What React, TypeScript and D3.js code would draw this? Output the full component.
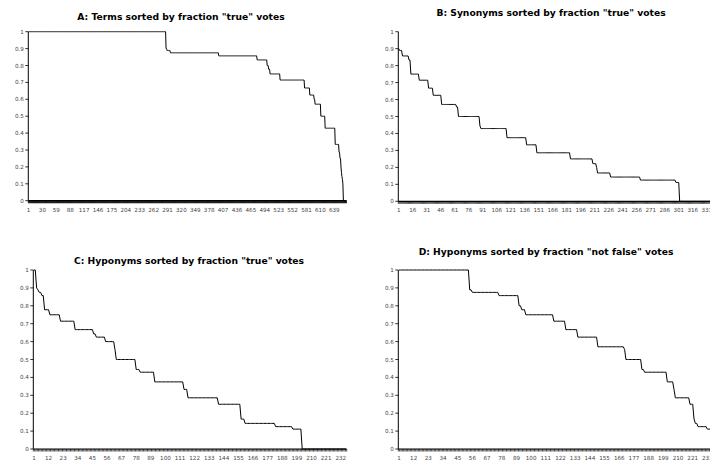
import React from "react";
import * as d3 from "d3";

// Run-length encoded step data: fraction level and number of items at that level
const aLevels = [1, 0.9, 0.889, 0.875, 0.857, 0.833, 0.8, 0.778, 0.75, 0.714, 0.667, 0.625, 0.6, 0.571, 0.5, 0.429, 0.333, 0.286, 0.25, 0.2, 0.167, 0.143, 0.125, 0.1, 0];
const aCounts = [287, 2, 7, 101, 80, 21, 3, 3, 21, 51, 11, 9, 2, 12, 9, 21, 8, 2, 2, 1, 1, 1, 1, 1, 7];

const bLevels = [0.9, 0.889, 0.857, 0.833, 0.75, 0.714, 0.667, 0.625, 0.571, 0.556, 0.5, 0.444, 0.429, 0.375, 0.333, 0.286, 0.25, 0.222, 0.2, 0.167, 0.143, 0.125, 0.111, 0];
const bCounts = [1, 3, 7, 2, 9, 10, 5, 9, 16, 2, 23, 1, 28, 21, 11, 36, 24, 4, 1, 14, 32, 38, 4, 39];

const cLevels = [1, 0.9, 0.889, 0.875, 0.857, 0.778, 0.75, 0.714, 0.667, 0.643, 0.625, 0.6, 0.556, 0.5, 0.444, 0.429, 0.375, 0.333, 0.286, 0.25, 0.167, 0.143, 0.125, 0.111, 0];
const cCounts = [2, 1, 1, 2, 2, 4, 8, 11, 14, 2, 7, 7, 1, 15, 3, 11, 22, 3, 23, 17, 3, 23, 13, 7, 34];

const dLevels = [1, 0.889, 0.875, 0.857, 0.8, 0.778, 0.75, 0.714, 0.667, 0.625, 0.571, 0.556, 0.5, 0.444, 0.429, 0.375, 0.333, 0.286, 0.25, 0.167, 0.143, 0.125, 0.111];
const dCounts = [53, 2, 20, 15, 2, 3, 21, 9, 9, 15, 20, 1, 12, 2, 17, 5, 1, 11, 3, 1, 2, 7, 5];

const titles = [
  'A: Terms sorted by fraction "true" votes',
  'B: Synonyms sorted by fraction "true" votes',
  'C: Hyponyms sorted by fraction "true" votes',
  'D: Hyponyms sorted by fraction "not false" votes',
];
const labelSteps = [29, 15, 11, 11];
const yTickValues = [0, 0.1, 0.2, 0.3, 0.4, 0.5, 0.6, 0.7, 0.8, 0.9, 1];
const yTickLabels = ["0", "0.1", "0.2", "0.3", "0.4", "0.5", "0.6", "0.7", "0.8", "0.9", "1"];

const layouts = [
  { x0: 28.3, x1: 346.5, yTop: 31.7, yBot: 200.7, tx: 181, ty: 20 },
  { x0: 398.3, x1: 715.6, yTop: 31.7, yBot: 201.3, tx: 551, ty: 16 },
  { x0: 33.3, x1: 346.7, yTop: 270, yBot: 449, tx: 189, ty: 263.5 },
  { x0: 398.3, x1: 713.4, yTop: 270, yBot: 449, tx: 546, ty: 254.5 },
];

function expand(levels: number[], counts: number[]): number[] {
  const out: number[] = [];
  levels.forEach((v, i) => {
    for (let k = 0; k < counts[i]; k++) out.push(v);
  });
  return out;
}

const FONT = "'DejaVu Sans', Verdana, sans-serif";

function Panel({ idx, values }: { idx: number; values: number[] }) {
  const L = layouts[idx];
  const n = values.length;
  const cats = d3.range(1, n + 1);
  const x = d3.scaleBand<number>().domain(cats).range([L.x0, L.x1]).padding(0);
  const bw = x.bandwidth();
  const y = d3.scaleLinear().domain([0, 1]).range([L.yBot, L.yTop]);
  const line = d3.line<number>()
    .x((_, i) => (x(i + 1) as number) + bw / 2)
    .y((v) => y(v));
  const step = labelSteps[idx];
  let ticks = "";
  cats.forEach((c) => {
    const xx = x(c) as number;
    ticks += `M${xx},${L.yBot}V${L.yBot + 2.5}`;
  });
  ticks += `M${L.x1},${L.yBot}V${L.yBot + 2.5}`;
  return (
    <g>
      <text x={L.tx} y={L.ty} textAnchor="middle" fontFamily={FONT} fontWeight="bold" fontSize={9.2} fill="#000">
        {titles[idx]}
      </text>
      {/* y axis */}
      <line x1={L.x0} x2={L.x0} y1={L.yTop} y2={L.yBot} stroke="#000" strokeWidth={1} />
      {yTickValues.map((t, i) => (
        <g key={i}>
          <line x1={L.x0 - 3} x2={L.x0} y1={y(t)} y2={y(t)} stroke="#000" strokeWidth={0.8} />
          <text x={L.x0 - 4.5} y={y(t) + 2} textAnchor="end" fontFamily={FONT} fontSize={5.6} fill="#444">
            {yTickLabels[i]}
          </text>
        </g>
      ))}
      {/* x axis */}
      <path d={ticks} stroke="#000" strokeWidth={0.7} fill="none" />
      <line x1={L.x0} x2={L.x1} y1={L.yBot} y2={L.yBot} stroke="#000" strokeWidth={1.2} />
      {cats.filter((c) => (c - 1) % step === 0).map((c) => (
        <text key={c} x={(x(c) as number) + bw / 2} y={L.yBot + 11} textAnchor="middle" fontFamily={FONT} fontSize={5.6} fill="#444">
          {c}
        </text>
      ))}
      <path d={line(values) || ""} fill="none" stroke="#000" strokeWidth={1} />
    </g>
  );
}

export default function App() {
  const series = [
    expand(aLevels, aCounts),
    expand(bLevels, bCounts),
    expand(cLevels, cCounts),
    expand(dLevels, dCounts),
  ];
  return (
    <svg
      width={710}
      height={462}
      style={{ position: "absolute", left: 0, top: 0, background: "#fff", overflow: "hidden" }}
    >
      <rect x={0} y={0} width={710} height={462} fill="#fff" />
      {series.map((s, i) => (
        <Panel key={i} idx={i} values={s} />
      ))}
    </svg>
  );
}
